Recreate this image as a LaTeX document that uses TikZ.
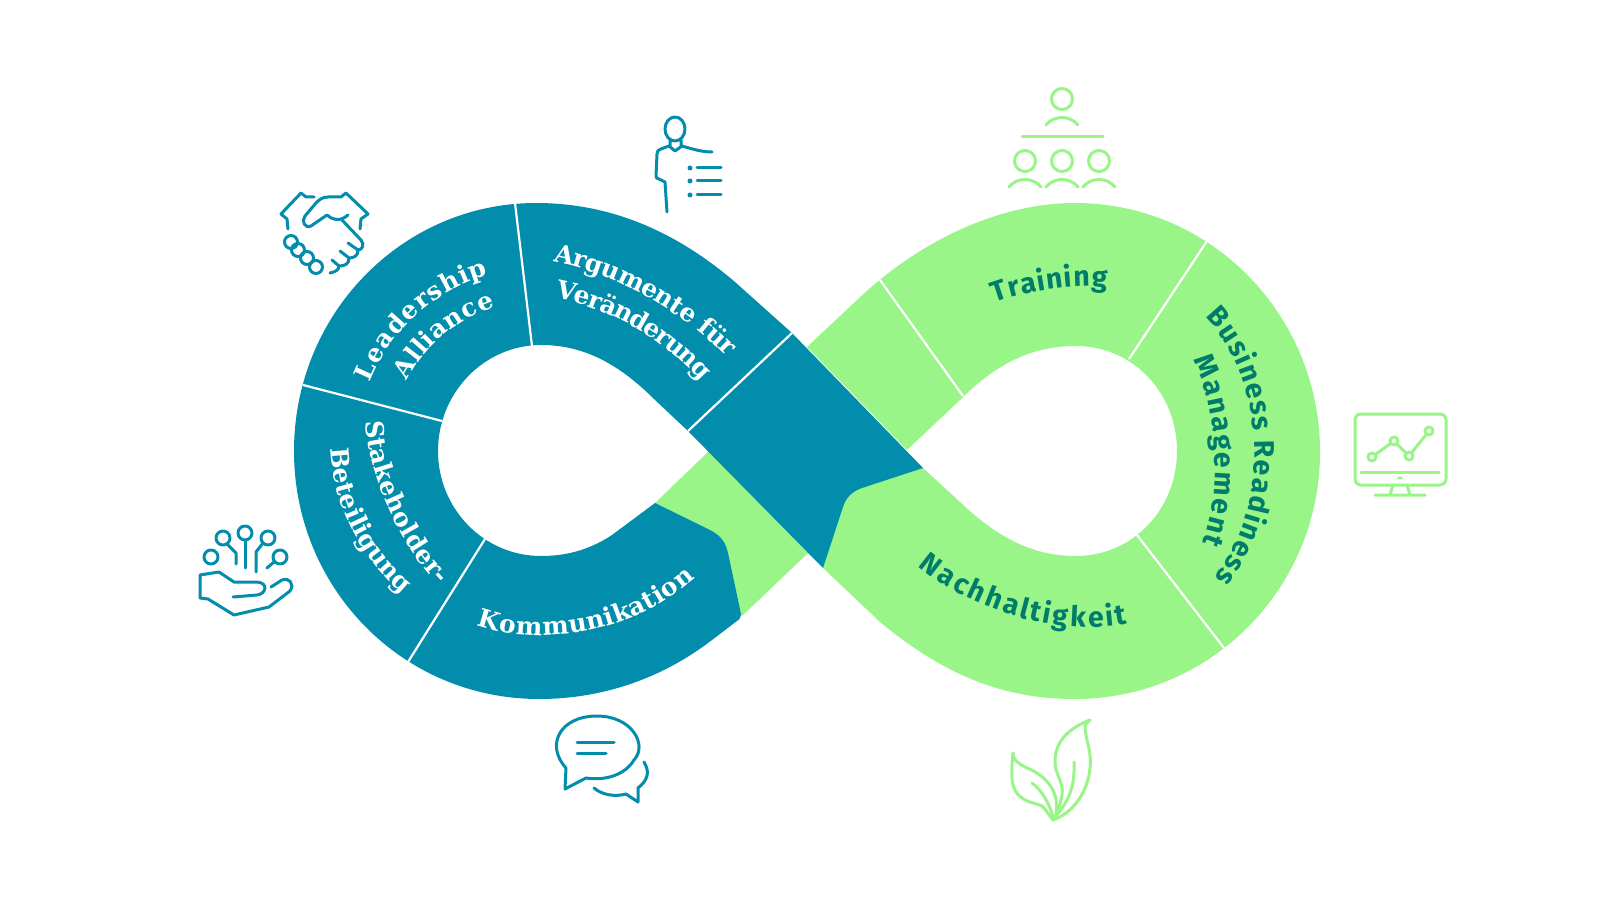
\documentclass[tikz,border=0pt]{standalone}
\usepackage{fontspec}
\usetikzlibrary{calc,decorations.text}
\newfontfamily\slabfont{DejaVu Serif}
\newfontfamily\leaffont{Fira Sans}
\definecolor{petrol}{HTML}{028DAD}
\definecolor{mint}{HTML}{99F587}
\definecolor{deepgreen}{HTML}{007C6B}
\tikzset{
  labelblue/.style={decorate, decoration={text effects along path, text={#1},
    text effects/.cd, text along path, fit text to path,
    characters={font=\slabfont\bfseries\fontsize{25}{25}\selectfont, text=white}}},
  labelgreen/.style={decorate, decoration={text effects along path, text={#1},
    text effects/.cd, text along path, fit text to path,
    characters={font=\leaffont\bfseries\fontsize{28.5}{28.5}\selectfont, text=deepgreen}}},
  iconblue/.style={draw=petrol, line width=3pt, line cap=round, line join=round},
  icongreen/.style={draw=mint, line width=3pt, line cap=round, line join=round},
  divider/.style={draw=white, line width=2.2pt}
}
\begin{document}
\begin{tikzpicture}[x=1pt, y=-1pt]
  \useasboundingbox (0,0) rectangle (1601,901);
  \coordinate (leftc) at (539,451);
  \coordinate (rightc) at (1076,451);

  % green band
  \fill[mint] (807,347) -- (857,300) .. controls (920,240) and (1000,203) .. (1075,203)
    .. controls (1211,203) and (1320,315) .. (1320,452)
    .. controls (1320,588) and (1211,699) .. (1075,699)
    .. controls (1010,699) and (950,680) .. (880,622) -- (823,568) -- (800,450) -- (923,468)
    -- (960,502) .. controls (1000,540) and (1035,556) .. (1076,556)
    .. controls (1133,556) and (1177,509) .. (1177,451)
    .. controls (1177,393) and (1133,346) .. (1076,346)
    .. controls (1030,346) and (995,365) .. (960,400) -- (907,450) -- cycle;
  \fill[mint] (655,503) -- (708,452) -- (730,445) -- (825,545) -- (807,554) -- (742,616) -- (700,580) -- cycle;

  % blue band
  \fill[petrol] (792,333) -- (923,468) -- (862,488) .. controls (851,492) and (846,498) .. (843,507)
    -- (823,568) -- (688,431) -- (655,400) .. controls (620,365) and (585,345) .. (541,345)
    .. controls (484,345) and (438,393) .. (438,451)
    .. controls (438,509) and (484,556) .. (541,556)
    .. controls (570,556) and (592,548) .. (612,535) -- (655,503)
    -- (710,530) .. controls (722,536) and (726,544) .. (728,553) -- (741,614)
    .. controls (741,617) and (740,619) .. (737,621) -- (712,640)
    .. controls (660,680) and (600,699) .. (539,699)
    .. controls (402,699) and (294,588) .. (294,451)
    .. controls (294,314) and (402,203) .. (536,203)
    .. controls (615,203) and (680,235) .. (735,282) -- cycle;

  % dividers
  \foreach \xa/\ya/\xb/\yb in {303/385/442/421, 515/203/532/346, 408/662/485/539, 688/431/792/333,
    880/280/963/396, 1207/241/1129/359, 1224/648/1137/535}{
    \draw[divider] (\xa,\ya) -- (\xb,\yb);
  }

  % labels
  \path[labelblue={Leadership}] ($(leftc)+(158:183pt)$) arc[start angle=158, end angle=106, radius=183pt];
  \path[labelblue={Alliance}] ($(leftc)+(152:150pt)$) arc[start angle=152, end angle=107, radius=150pt];
  \path[labelblue={Argumente für}] (553,262) .. controls (610,272) and (675,305) .. (727,357);
  \path[labelblue={Veränderung}] (555,298) .. controls (605,307) and (660,335) .. (701,381);
  \path[labelblue={Stakeholder-}] (366,421) .. controls (366,465) and (395,540) .. (439,585);
  \path[labelblue={Beteiligung}] (331,448) .. controls (332,500) and (360,560) .. (403,594);
  \path[labelblue={Kommunikation}] (477,625) .. controls (530,645) and (625,640) .. (695,578);
  \path[labelgreen={Training}] (995,303) .. controls (1020,293) and (1075,283) .. (1107,288);
  \path[labelgreen={Business Readiness}] (1205,317) .. controls (1255,365) and (1282,490) .. (1214,578);
  \path[labelgreen={Management}] (1193,360) .. controls (1215,400) and (1225,490) .. (1202,543);
  \path[labelgreen={Nachhaltigkeit}] (918,566) .. controls (950,595) and (1040,640) .. (1127,624);

  % handshake
  \draw[iconblue] (288,229) -- (287,219) -- (281,214) -- (301,193) -- (306,197) -- (314,197);
  \draw[iconblue] (360,229) -- (361,219) -- (368,214) -- (346,193) -- (341,197) -- (328,197)
    .. controls (322,197) and (319,200) .. (316,203) -- (305,216)
    .. controls (301,221) and (305,229) .. (311,226) -- (327,215)
    .. controls (332,220) and (340,222) .. (348,215);
  \draw[iconblue] (342,220) -- (361,240) .. controls (365,245) and (362,250) .. (358,250) -- (348,243);
  \draw[iconblue] (358,250) .. controls (358,256) and (354,258) .. (349,258) -- (340,251);
  \draw[iconblue] (349,258) .. controls (349,264) and (345,266) .. (339,266) -- (332,260);
  \draw[iconblue] (339,266) .. controls (339,270) and (335,272) .. (330,273);
  \foreach \xc/\yc in {291/242, 298/250, 307/258, 316/267}{
    \draw[iconblue] (\xc,\yc) circle[radius=6.5pt];
  }

  % presenter
  \draw[iconblue] (675,129) ellipse[x radius=10pt, y radius=12pt];
  \draw[iconblue] (669,146) -- (675,151) -- (682,146) (670,140) -- (670,146) (681,140) -- (681,146);
  \draw[iconblue] (669,146) -- (661,149) .. controls (658,150) and (657,151) .. (657,154) -- (656,176)
    .. controls (656,178) and (657,179) .. (659,179) -- (665,182) -- (667,212);
  \draw[iconblue] (682,146) .. controls (692,149) and (702,152) .. (712,152);
  \foreach \yl in {168, 181, 195}{
    \fill[petrol] (690,\yl) circle[radius=2.5pt];
    \draw[iconblue] (697,\yl) -- (721,\yl);
  }

  % hand with circuits
  \foreach \xc/\yc in {211/557, 223/538, 245/533, 268/538, 280/557}{
    \draw[iconblue] (\xc,\yc) circle[radius=7pt];
  }
  \draw[iconblue] (228,545) -- (236,553) -- (236,564);
  \draw[iconblue] (245,540) -- (245,568);
  \draw[iconblue] (263,543) -- (256,552) -- (256,572);
  \draw[iconblue] (274,562) -- (267,568);
  \draw[iconblue] (233,597) -- (257,595) .. controls (266,594) and (269,583) .. (257,582) -- (234,582)
    -- (219,572) -- (200,575) -- (200,598) -- (208,599) -- (234,615) -- (269,607) -- (290,591)
    .. controls (295,584) and (289,577) .. (282,580) -- (271,587);

  % speech bubbles
  \draw[iconblue] (566,768) .. controls (545,745) and (560,716) .. (597,716)
    .. controls (632,716) and (648,745) .. (634,760) .. controls (625,775) and (605,781) .. (586,778)
    -- (565,789) -- cycle;
  \draw[iconblue] (577,742) -- (614,742) (577,753) -- (606,753);
  \draw[iconblue] (644,762) .. controls (650,772) and (648,780) .. (638,788) -- (638,802) -- (626,794)
    .. controls (615,797) and (602,795) .. (594,788);

  % group
  \foreach \xc/\yc in {1062/99, 1025/161, 1062/161, 1099/161}{
    \draw[icongreen] (\xc,\yc) circle[radius=10.5pt];
    \draw[icongreen] (\xc-16,\yc+26) .. controls (\xc-8,\yc+16) and (\xc+8,\yc+16) .. (\xc+16,\yc+26);
  }
  \draw[icongreen] (1022,137) -- (1103,137);

  % monitor
  \draw[icongreen, rounded corners=6pt] (1355,414) rectangle (1446,485);
  \draw[icongreen] (1361,472) -- (1439,472);
  \fill[mint] (1400,478) ellipse[x radius=3pt, y radius=1.5pt];
  \draw[icongreen] (1393,485) -- (1390,495) (1407,485) -- (1410,495) (1375,495) -- (1425,495);
  \draw[icongreen] (1372,457) -- (1394,441) -- (1409,456) -- (1429,431);
  \foreach \xc/\yc in {1372/457, 1394/441, 1409/456, 1429/431}{
    \draw[icongreen, fill=white] (\xc,\yc) circle[radius=4pt];
  }

  % leaves
  \draw[icongreen] (1090,720) .. controls (1070,728) and (1055,740) .. (1055,762)
    .. controls (1055,775) and (1064,782) .. (1062,795) .. controls (1060,805) and (1058,812) .. (1053,820);
  \draw[icongreen] (1090,720) -- (1085,725) .. controls (1085,740) and (1092,750) .. (1090,768)
    .. controls (1088,790) and (1075,812) .. (1053,820);
  \draw[icongreen] (1074,762) .. controls (1075,785) and (1070,800) .. (1055,817);
  \draw[icongreen] (1013,753) .. controls (1013,760) and (1018,763) .. (1025,767)
    .. controls (1045,775) and (1060,790) .. (1056,815);
  \draw[icongreen] (1013,753) .. controls (1011,775) and (1010,790) .. (1022,798)
    .. controls (1030,804) and (1040,803) .. (1044,808) -- (1053,820);
  \draw[icongreen] (1032,783) .. controls (1042,790) and (1050,805) .. (1053,817);
\end{tikzpicture}
\end{document}
